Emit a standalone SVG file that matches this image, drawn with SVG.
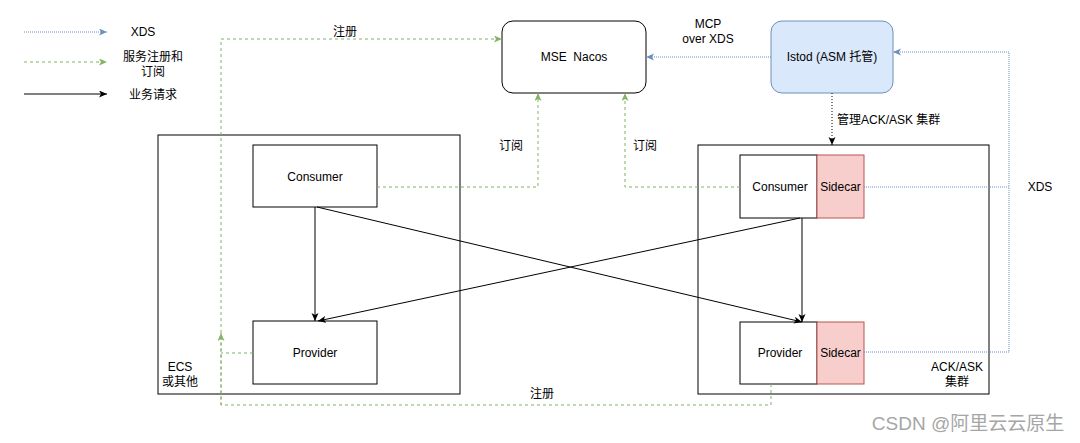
<svg xmlns="http://www.w3.org/2000/svg" width="1080" height="443" viewBox="0 0 1080 443">
<style>
text{font-family:"Liberation Sans","Noto Sans CJK SC",sans-serif;font-size:12px;fill:#000;text-anchor:middle;dominant-baseline:central}
.box{fill:#fff;stroke:#000;stroke-width:1}
.side{fill:#f8cecc;stroke:#b85450;stroke-width:1}
.blue{fill:none;stroke:#6c8ebf;stroke-width:1;stroke-dasharray:1 1}
.green{fill:none;stroke:#82b366;stroke-width:1;stroke-dasharray:3 3}
.black{fill:none;stroke:#000;stroke-width:1}
.dot{fill:none;stroke:#000;stroke-width:1;stroke-dasharray:1 2}
</style>
<defs>
<marker id="aBlue" markerUnits="userSpaceOnUse" markerWidth="10" markerHeight="8" refX="8" refY="3.5" orient="auto"><path d="M0,0 L8,3.5 L0,7 L2,3.5 Z" fill="#6c8ebf"/></marker>
<marker id="aGreen" markerUnits="userSpaceOnUse" markerWidth="10" markerHeight="8" refX="8" refY="3.5" orient="auto"><path d="M0,0 L8,3.5 L0,7 L2,3.5 Z" fill="#82b366"/></marker>
<marker id="aBlack" markerUnits="userSpaceOnUse" markerWidth="10" markerHeight="8" refX="8" refY="3.5" orient="auto"><path d="M0,0 L8,3.5 L0,7 L2,3.5 Z" fill="#000"/></marker>
</defs>
<rect width="1080" height="443" fill="#fff"/>

<g id="legend">
<line class="blue" x1="24" y1="32" x2="107" y2="32" marker-end="url(#aBlue)"/>
<text x="143" y="32">XDS</text>
<line class="green" x1="24" y1="62" x2="107" y2="62" marker-end="url(#aGreen)"/>
<text x="153" y="57">服务注册和</text>
<text x="153" y="72">订阅</text>
<line class="black" x1="24" y1="94" x2="107" y2="94" marker-end="url(#aBlack)"/>
<text x="153" y="95">业务请求</text>
</g>

<g id="ecs">
<rect class="box" x="158" y="135" width="302" height="259"/>
<text x="180" y="367">ECS</text>
<text x="180" y="382">或其他</text>
</g>
<g id="ack">
<rect class="box" x="698" y="145" width="291" height="249"/>
<text x="957" y="367">ACK/ASK</text>
<text x="957" y="382">集群</text>
</g>

<g id="nacos">
<rect class="box" x="502" y="21" width="144" height="72" rx="11"/>
<text x="574" y="57" xml:space="preserve">MSE  Nacos</text>
</g>
<g id="istod">
<rect x="771" y="21" width="122" height="72" rx="11" fill="#dae8fc" stroke="#6c8ebf"/>
<text x="832" y="57">Istod (ASM 托管)</text>
</g>

<g id="ecs-consumer">
<rect class="box" x="253" y="145" width="124" height="62"/>
<text x="315" y="177">Consumer</text>
</g>
<g id="ecs-provider">
<rect class="box" x="253" y="321" width="124" height="63"/>
<text x="315" y="353">Provider</text>
</g>
<g id="ack-consumer">
<rect class="box" x="740" y="155" width="77" height="63"/>
<text x="780" y="187">Consumer</text>
<rect class="side" x="817" y="155" width="47" height="63"/>
<text x="840.5" y="187">Sidecar</text>
</g>
<g id="ack-provider">
<rect class="box" x="740" y="322" width="77" height="62"/>
<text x="780" y="353">Provider</text>
<rect class="side" x="817" y="322" width="47" height="62"/>
<text x="840.5" y="353">Sidecar</text>
</g>

<g id="connectors">
<line class="blue" x1="771" y1="57" x2="646" y2="57" marker-end="url(#aBlue)"/>
<text x="708" y="24">MCP</text>
<text x="708" y="39">over XDS</text>
<polyline class="blue" points="864,187 1009,187 1009,52 893,52" marker-end="url(#aBlue)"/>
<polyline class="blue" points="864,352 1009,352 1009,187"/>
<text x="1040" y="187">XDS</text>
<line class="dot" x1="832" y1="93" x2="832" y2="145" marker-end="url(#aBlack)"/>
<text x="837" y="120" style="text-anchor:start">管理ACK/ASK 集群</text>

<polyline class="green" points="377,187 538,187 538,93" marker-end="url(#aGreen)"/>
<text x="511" y="146">订阅</text>
<polyline class="green" points="740,187 625,187 625,93" marker-end="url(#aGreen)"/>
<text x="645" y="146">订阅</text>
<polyline class="green" points="221,405 221,39 502,39" marker-end="url(#aGreen)"/>
<text x="345" y="32">注册</text>
<polyline class="green" points="253,353 221,353"/>
<polyline class="green" points="771,384 771,405 221,405 221,333" marker-end="url(#aGreen)"/>
<text x="542" y="394">注册</text>

<line class="black" x1="315" y1="207" x2="315" y2="321" marker-end="url(#aBlack)"/>
<line class="black" x1="317" y1="207" x2="802" y2="322" marker-end="url(#aBlack)"/>
<line class="black" x1="802" y1="218" x2="802" y2="322" marker-end="url(#aBlack)"/>
<line class="black" x1="800" y1="218" x2="318" y2="321" marker-end="url(#aBlack)"/>
</g>

<text x="968" y="423" style="font-size:19px;fill:#a6a6a6">CSDN @阿里云云原生</text>
</svg>
